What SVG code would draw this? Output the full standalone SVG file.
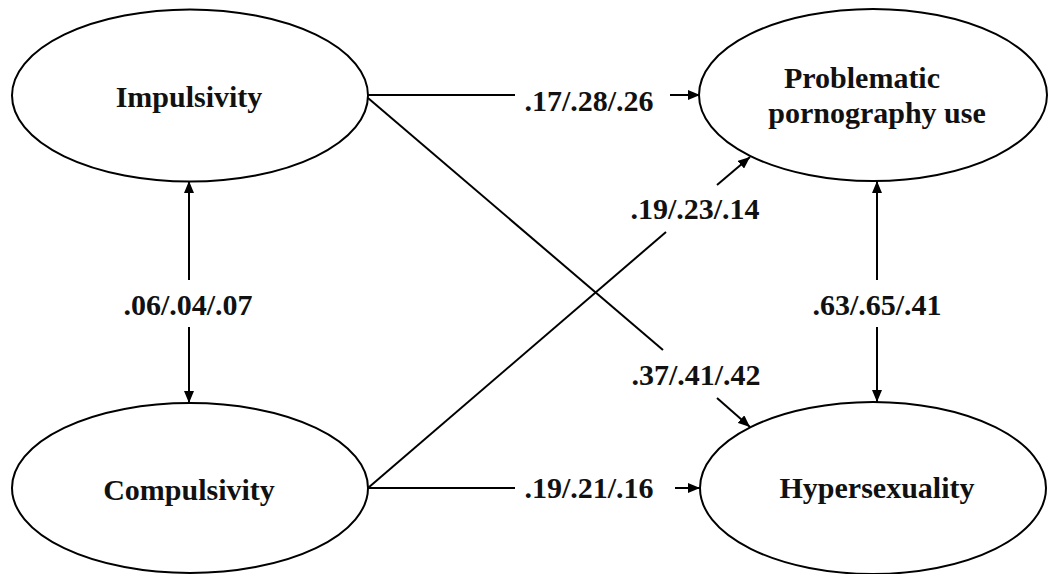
<svg xmlns="http://www.w3.org/2000/svg" width="1048" height="574" viewBox="0 0 1048 574">
<style>
.node{fill:#fff;stroke:#000;stroke-width:2}
.t{font-family:"Liberation Serif","Times New Roman",serif;font-weight:bold;font-size:30px;fill:#111;text-anchor:middle}
.c{stroke:#000;stroke-width:2;fill:none}
.a{stroke:#000;stroke-width:2;fill:none;marker-end:url(#ah)}
</style>
<defs>
<marker id="ah" markerUnits="userSpaceOnUse" markerWidth="12" markerHeight="10" refX="12" refY="5" orient="auto">
<path d="M0,0 L12,5 L0,10 z" fill="#000"/>
</marker>
</defs>
<rect width="1048" height="574" fill="#fff"/>
<g id="node-impulsivity">
<ellipse class="node" cx="190" cy="95.5" rx="178" ry="86"/>
<text class="t" x="189" y="107">Impulsivity</text>
</g>
<g id="node-compulsivity">
<ellipse class="node" cx="190" cy="488" rx="178" ry="85"/>
<text class="t" x="189" y="500">Compulsivity</text>
</g>
<g id="node-ppu">
<ellipse class="node" cx="873" cy="95" rx="174" ry="86"/>
<text class="t" x="862" y="88">Problematic</text>
<text class="t" x="877" y="123">pornography use</text>
</g>
<g id="node-hypersexuality">
<ellipse class="node" cx="873" cy="488" rx="173" ry="86"/>
<text class="t" x="877" y="498">Hypersexuality</text>
</g>
<g id="connectors">
<line class="c" x1="368" y1="95" x2="515" y2="95"/>
<line class="a" x1="670" y1="95" x2="700" y2="95"/>
<line class="c" x1="368" y1="488" x2="515" y2="488"/>
<line class="a" x1="675" y1="488" x2="700" y2="488"/>
<line class="a" x1="189" y1="280" x2="189" y2="181"/>
<line class="a" x1="189" y1="327" x2="189" y2="403"/>
<line class="a" x1="877" y1="280" x2="877" y2="181"/>
<line class="a" x1="877" y1="327" x2="877" y2="402"/>
<line class="c" x1="368" y1="98" x2="663" y2="350"/>
<line class="a" x1="717" y1="398" x2="750" y2="427"/>
<line class="c" x1="368" y1="488" x2="666" y2="232"/>
<line class="a" x1="717" y1="185" x2="750" y2="157"/>
<text class="t" x="589" y="111">.17/.28/.26</text>
<text class="t" x="589" y="498">.19/.21/.16</text>
<text class="t" x="695" y="219">.19/.23/.14</text>
<text class="t" x="696" y="385">.37/.41/.42</text>
<text class="t" x="188" y="315">.06/.04/.07</text>
<text class="t" x="877" y="315">.63/.65/.41</text>
</g>
</svg>
